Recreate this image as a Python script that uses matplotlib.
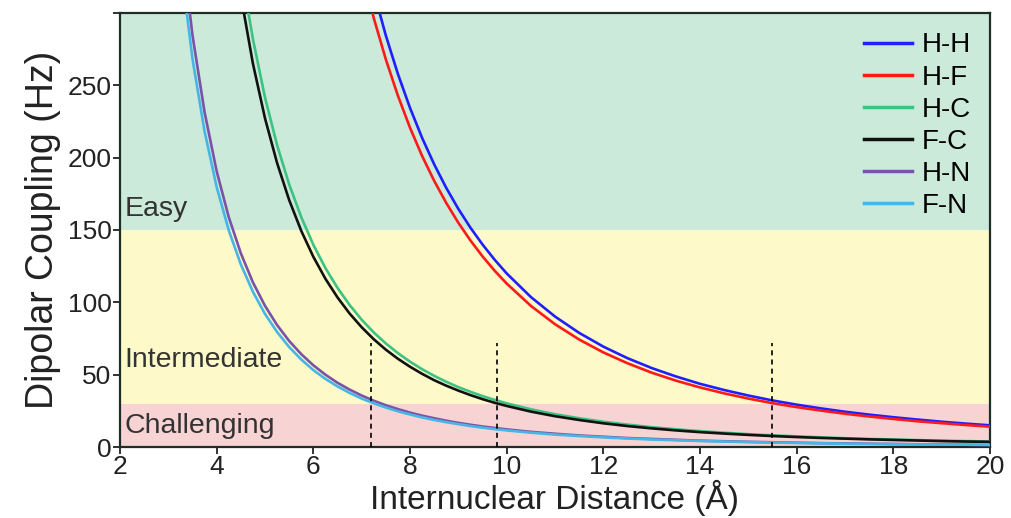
import numpy as np
import matplotlib
matplotlib.use("Agg")
import matplotlib.pyplot as plt

plt.rcParams['font.family'] = ['Liberation Sans', 'DejaVu Sans']

# internuclear distance (Angstrom)
distance = [3.25, 3.5, 3.75, 4.0, 4.25, 4.5, 4.75, 5.0, 5.25, 5.5, 5.75, 6.0,
            6.25, 6.5, 6.75, 7.0, 7.25, 7.5, 7.75, 8.0, 8.25, 8.5, 8.75, 9.0,
            9.25, 9.5, 9.75, 10.0, 10.5, 11.0, 11.5, 12.0, 12.5, 13.0, 13.5, 14.0,
            14.5, 15.0, 15.5, 16.0, 16.5, 17.0, 17.5, 18.0, 18.5, 19.0, 19.5, 20.0]

# dipolar coupling (Hz)
hh = [3496, 2799, 2276, 1875, 1563, 1317, 1120, 960, 829, 721, 631, 556,
      491.5, 437.0, 390.2, 349.9, 314.9, 284.4, 257.8, 234.4, 213.7, 195.4, 179.1, 164.6,
      151.6, 140.0, 129.5, 120.0, 103.7, 90.2, 78.9, 69.4, 61.4, 54.6, 48.8, 43.7,
      39.4, 35.6, 32.2, 29.3, 26.7, 24.4, 22.4, 20.6, 19.0, 17.5, 16.2, 15.0]
hf = [3292, 2636, 2143, 1766, 1472, 1240, 1054, 904, 781, 679, 594, 523,
      462.8, 411.5, 367.4, 329.4, 296.5, 267.9, 242.8, 220.7, 201.2, 184.0, 168.7, 155.0,
      142.8, 131.8, 121.9, 113.0, 97.6, 84.9, 74.3, 65.4, 57.9, 51.4, 45.9, 41.2,
      37.1, 33.5, 30.3, 27.6, 25.2, 23.0, 21.1, 19.4, 17.8, 16.5, 15.2, 14.1]
hc = [880, 704, 573, 472, 393, 331, 282, 241.6, 208.7, 181.5, 158.9, 139.8,
      123.7, 110.0, 98.2, 88.0, 79.2, 71.6, 64.9, 59.0, 53.8, 49.2, 45.1, 41.4,
      38.2, 35.2, 32.6, 30.2, 26.1, 22.7, 19.9, 17.5, 15.5, 13.7, 12.3, 11.0,
      9.9, 8.9, 8.1, 7.4, 6.7, 6.1, 5.6, 5.2, 4.8, 4.4, 4.1, 3.8]
fc = [827, 662, 539, 444, 370, 312, 265, 227.2, 196.3, 170.7, 149.4, 131.5,
      116.3, 103.4, 92.3, 82.8, 74.5, 67.3, 61.0, 55.5, 50.6, 46.2, 42.4, 39.0,
      35.9, 33.1, 30.6, 28.4, 24.5, 21.3, 18.7, 16.4, 14.5, 12.9, 11.5, 10.3,
      9.3, 8.4, 7.6, 6.9, 6.3, 5.8, 5.3, 4.9, 4.5, 4.1, 3.8, 3.6]
hn = [355.4, 284.5, 231.4, 190.6, 158.9, 133.9, 113.8, 97.6, 84.3, 73.3, 64.2, 56.5,
      50.0, 44.4, 39.7, 35.6, 32.0, 28.9, 26.2, 23.8, 21.7, 19.9, 18.2, 16.7,
      15.4, 14.2, 13.2, 12.2, 10.5, 9.2, 8.0, 7.1, 6.2, 5.6, 5.0, 4.4,
      4.0, 3.6, 3.3, 3.0, 2.7, 2.5, 2.3, 2.1, 1.9, 1.8, 1.6, 1.5]
fn = [335.0, 268.2, 218.1, 179.7, 149.8, 126.2, 107.3, 92.0, 79.5, 69.1, 60.5, 53.2,
      47.1, 41.9, 37.4, 33.5, 30.2, 27.3, 24.7, 22.5, 20.5, 18.7, 17.2, 15.8,
      14.5, 13.4, 12.4, 11.5, 9.9, 8.6, 7.6, 6.7, 5.9, 5.2, 4.7, 4.2,
      3.8, 3.4, 3.1, 2.8, 2.6, 2.3, 2.1, 2.0, 1.8, 1.7, 1.6, 1.4]

pairs = ['H-H', 'H-F', 'H-C', 'F-C', 'H-N', 'F-N']
series = [hh, hf, hc, fc, hn, fn]
colors = ['#1f1fff', '#ff1a1a', '#3cc283', '#111111', '#7b52a8', '#45b6e6']

# regimes: (low, high, colour, label, label baseline)
bands = [(150, 300, '#cbead9', 'Easy', 160),
         (30, 150, '#fdf9c9', 'Intermediate', 55),
         (0, 30, '#f8d3d3', 'Challenging', 9.5)]

# distances where each group drops to ~30 Hz
cutoffs = [7.2, 9.8, 15.5]

fig = plt.figure(figsize=(10.11, 5.18), dpi=100)
ax = fig.add_axes([0.1187, 0.137, 0.8605, 0.838])

for lo, hi, col, name, ytxt in bands:
    ax.axhspan(lo, hi, color=col, zorder=0, lw=0)
    ax.text(2.1, ytxt, name, fontsize=20.5, color='#333333', va='baseline', ha='left', zorder=1)

for name, vals, col in zip(pairs, series, colors):
    ax.plot(distance, vals, color=col, lw=1.9, label=name, zorder=3)

ax.vlines(cutoffs, 0, 72, colors='black', linestyles=(0, (3, 2.5)), lw=1.2, zorder=4)

ax.set_xlim(2, 20)
ax.set_ylim(0, 300)
ax.set_xticks(np.arange(2, 21, 2))
ax.set_yticks([0, 50, 100, 150, 200, 250, 300])
ax.set_yticklabels(['0', '50', '100', '150', '200', '250', ''])
ax.tick_params(labelsize=19, direction='out', length=5, width=1.3, colors='#222222', pad=1)
ax.set_xlabel('Internuclear Distance (Å)', fontsize=24, color='#222222', labelpad=0)
ax.set_ylabel('Dipolar Coupling (Hz)', fontsize=27, color='#222222', labelpad=5)

for s in ax.spines.values():
    s.set_linewidth(1.6)
    s.set_color('#1e2e26')

leg = ax.legend(loc='upper right', frameon=False, fontsize=20, handlelength=1.7,
                handletextpad=0.35, labelspacing=0.22, borderaxespad=0.3)
for line in leg.get_lines():
    line.set_linewidth(2.5)

fig.savefig('out.png', dpi=100)
